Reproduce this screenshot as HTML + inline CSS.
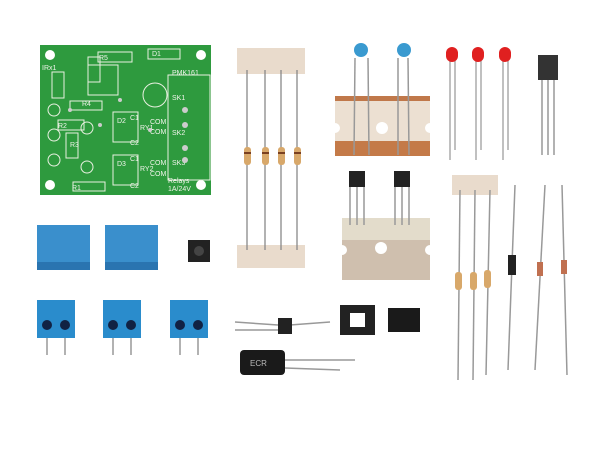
<!DOCTYPE html>
<html><head><style>html,body{margin:0;padding:0;background:#fff;width:600px;height:450px;overflow:hidden}</style></head>
<body>
<svg width="600" height="450" viewBox="0 0 600 450" xmlns="http://www.w3.org/2000/svg" font-family="Liberation Sans, sans-serif">
<rect width="600" height="450" fill="#fff"/>
<!-- PCB -->
<rect x="40" y="45" width="171" height="150" fill="#2e9a3e"/>
<g fill="#fff"><circle cx="50" cy="55" r="5"/><circle cx="201" cy="55" r="5"/><circle cx="50" cy="185" r="5"/><circle cx="201" cy="185" r="5"/></g>
<g fill="none" stroke="#e8f0e0" stroke-width="1">
<rect x="98" y="52" width="34" height="10"/><rect x="148" y="49" width="32" height="10"/>
<rect x="88" y="57" width="12" height="25"/>
<rect x="88" y="65" width="30" height="30"/>
<circle cx="155" cy="95" r="12"/><rect x="113" y="112" width="25" height="30"/><rect x="113" y="155" width="25" height="30"/>
<rect x="168" y="75" width="42" height="105"/><rect x="58" y="120" width="26" height="10"/><rect x="66" y="133" width="12" height="25"/>
<rect x="70" y="101" width="32" height="9"/><rect x="73" y="182" width="32" height="9"/>
<circle cx="54" cy="110" r="6"/><circle cx="54" cy="135" r="6"/><circle cx="54" cy="160" r="6"/><circle cx="87" cy="128" r="6"/><circle cx="87" cy="167" r="6"/>
<rect x="52" y="72" width="12" height="26"/>
</g>
<g fill="#f0f4ea" font-size="7">
<text x="42" y="70">IRx1</text><text x="99" y="60">R5</text><text x="152" y="56">D1</text><text x="172" y="75">PMK161</text>
<text x="82" y="106">R4</text><text x="58" y="128">R2</text><text x="70" y="147">R3</text><text x="72" y="190">R1</text>
<text x="117" y="123">D2</text><text x="117" y="166">D3</text>
<text x="130" y="120">C1</text><text x="140" y="130">RY1</text><text x="130" y="145">C2</text><text x="130" y="161">C1</text><text x="140" y="171">RY2</text><text x="130" y="188">C2</text>
<text x="150" y="124">COM</text><text x="150" y="134">COM</text><text x="150" y="165">COM</text><text x="150" y="176">COM</text>
<text x="172" y="100">SK1</text><text x="172" y="135">SK2</text><text x="172" y="165">SK3</text>
<text x="168" y="183">Relays</text><text x="168" y="191">1A/24V</text>
</g>
<g fill="#ccc"><circle cx="70" cy="110" r="2"/><circle cx="100" cy="125" r="2"/><circle cx="120" cy="100" r="2"/><circle cx="150" cy="130" r="2"/><circle cx="185" cy="110" r="3"/><circle cx="185" cy="125" r="3"/><circle cx="185" cy="148" r="3"/><circle cx="185" cy="160" r="3"/></g>
<!-- resistor strip -->
<rect x="237" y="48" width="68" height="26" fill="#e9dbcc"/>
<rect x="237" y="245" width="68" height="23" fill="#e9dbcc"/>
<g stroke="#888" stroke-width="1.3"><line x1="247" y1="70" x2="247" y2="250"/><line x1="265" y1="70" x2="265" y2="250"/><line x1="281" y1="70" x2="281" y2="250"/><line x1="297" y1="70" x2="297" y2="250"/></g>
<g fill="#d8a86a"><rect x="244" y="147" width="7" height="18" rx="3"/><rect x="262" y="147" width="7" height="18" rx="3"/><rect x="278" y="147" width="7" height="18" rx="3"/><rect x="294" y="147" width="7" height="18" rx="3"/></g>
<g fill="#7a4020"><rect x="244" y="152" width="7" height="2"/><rect x="262" y="152" width="7" height="2"/><rect x="278" y="152" width="7" height="2"/><rect x="294" y="152" width="7" height="2"/></g>
<!-- blue caps -->
<rect x="335" y="96" width="95" height="60" fill="#ece0d2"/>
<rect x="335" y="96" width="95" height="5" fill="#c0784a"/>
<rect x="335" y="141" width="95" height="15" fill="#c47a48"/>
<circle cx="382" cy="128" r="6" fill="#fff"/><circle cx="335" cy="128" r="5" fill="#fff"/><circle cx="430" cy="128" r="5" fill="#fff"/>
<g stroke="#999" stroke-width="1.5"><line x1="355" y1="58" x2="354" y2="155"/><line x1="368" y1="58" x2="369" y2="155"/><line x1="398" y1="58" x2="398" y2="155"/><line x1="408" y1="58" x2="409" y2="155"/></g>
<ellipse cx="361" cy="50" rx="7" ry="7" fill="#3a9ad0"/><ellipse cx="404" cy="50" rx="7" ry="7" fill="#3a9ad0"/>
<!-- LEDs -->
<g stroke="#aaa" stroke-width="1.5"><line x1="450" y1="60" x2="450" y2="160"/><line x1="455" y1="60" x2="455" y2="150"/><line x1="476" y1="60" x2="476" y2="160"/><line x1="481" y1="60" x2="481" y2="150"/><line x1="503" y1="60" x2="503" y2="160"/><line x1="508" y1="60" x2="508" y2="150"/></g>
<g fill="#e02020"><rect x="446" y="47" width="12" height="15" rx="6"/><rect x="472" y="47" width="12" height="15" rx="6"/><rect x="499" y="47" width="12" height="15" rx="6"/></g>
<!-- IR receiver -->
<rect x="538" y="55" width="20" height="25" fill="#333"/>
<g stroke="#999" stroke-width="1.5"><line x1="542" y1="80" x2="542" y2="155"/><line x1="548" y1="80" x2="548" y2="155"/><line x1="554" y1="80" x2="554" y2="155"/></g>
<!-- transistors with tape -->
<rect x="342" y="218" width="88" height="62" fill="#cfbfae"/>
<rect x="342" y="218" width="88" height="22" fill="#e3dccb"/>
<circle cx="381" cy="248" r="6" fill="#fff"/><circle cx="342" cy="250" r="5" fill="#fff"/><circle cx="430" cy="250" r="5" fill="#fff"/>
<g stroke="#999" stroke-width="1.5"><line x1="350" y1="180" x2="350" y2="225"/><line x1="357" y1="180" x2="357" y2="225"/><line x1="364" y1="180" x2="364" y2="225"/><line x1="395" y1="180" x2="395" y2="225"/><line x1="402" y1="180" x2="402" y2="225"/><line x1="409" y1="180" x2="409" y2="225"/></g>
<path d="M349 171h16v16h-16z" fill="#222"/><path d="M394 171h16v16h-16z" fill="#222"/>
<!-- right resistor strip -->
<rect x="452" y="175" width="46" height="20" fill="#e9dbcc"/>
<g stroke="#999" stroke-width="1.5"><line x1="460" y1="190" x2="458" y2="380"/><line x1="475" y1="190" x2="473" y2="380"/><line x1="490" y1="190" x2="486" y2="375"/></g>
<g fill="#d8a86a"><rect x="455" y="272" width="7" height="18" rx="3"/><rect x="470" y="272" width="7" height="18" rx="3"/><rect x="484" y="270" width="7" height="18" rx="3"/></g>
<!-- diodes -->
<g stroke="#999" stroke-width="1.5"><line x1="515" y1="185" x2="508" y2="370"/><line x1="545" y1="185" x2="535" y2="370"/><line x1="562" y1="185" x2="567" y2="375"/></g>
<rect x="508" y="255" width="8" height="20" fill="#222"/><rect x="537" y="262" width="6" height="14" fill="#c07050"/><rect x="561" y="260" width="6" height="14" fill="#c07050"/>
<!-- relays -->
<rect x="37" y="225" width="53" height="45" fill="#3a8fcc"/><rect x="105" y="225" width="53" height="45" fill="#3a8fcc"/>
<rect x="37" y="262" width="53" height="8" fill="#2a74b0"/><rect x="105" y="262" width="53" height="8" fill="#2a74b0"/>
<!-- push button -->
<rect x="188" y="240" width="22" height="22" fill="#222"/><circle cx="199" cy="251" r="5" fill="#444"/>
<!-- terminal blocks -->
<g fill="#2a8ccc">
<rect x="37" y="300" width="38" height="38"/><rect x="103" y="300" width="38" height="38"/><rect x="170" y="300" width="38" height="38"/></g>
<g fill="#124"><circle cx="47" cy="325" r="5"/><circle cx="65" cy="325" r="5"/><circle cx="113" cy="325" r="5"/><circle cx="131" cy="325" r="5"/><circle cx="180" cy="325" r="5"/><circle cx="198" cy="325" r="5"/></g>
<g stroke="#999" stroke-width="1.5"><line x1="47" y1="338" x2="47" y2="355"/><line x1="65" y1="338" x2="65" y2="355"/><line x1="113" y1="338" x2="113" y2="355"/><line x1="131" y1="338" x2="131" y2="355"/><line x1="180" y1="338" x2="180" y2="355"/><line x1="198" y1="338" x2="198" y2="355"/></g>
<!-- small transistor -->
<g stroke="#999" stroke-width="1.5"><line x1="235" y1="322" x2="278" y2="325"/><line x1="235" y1="330" x2="278" y2="330"/><line x1="290" y1="325" x2="330" y2="322"/></g>
<rect x="278" y="318" width="14" height="16" fill="#222"/>
<!-- IC socket & IC -->
<rect x="340" y="305" width="35" height="30" fill="#222"/><rect x="350" y="313" width="15" height="14" fill="#fff"/>
<rect x="388" y="308" width="32" height="24" fill="#1a1a1a"/>
<!-- electrolytic -->
<g stroke="#999" stroke-width="1.5"><line x1="285" y1="360" x2="355" y2="360"/><line x1="285" y1="368" x2="340" y2="370"/></g>
<rect x="240" y="350" width="45" height="25" rx="4" fill="#1a1a1a"/>
<text x="250" y="366" fill="#bbb" font-size="8">ECR</text>
</svg>
</body></html>
